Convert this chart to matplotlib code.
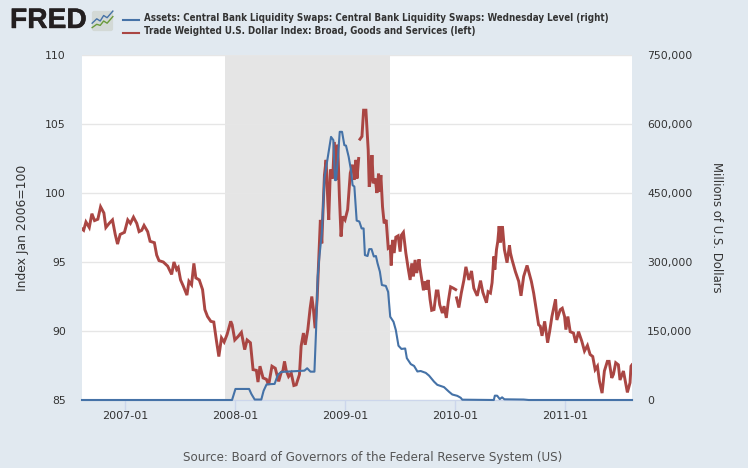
import numpy as np
import matplotlib.pyplot as plt
import matplotlib.patheffects as pe
from matplotlib.patches import FancyBboxPatch

nan = float("nan")

usd_years = [
    2006.611, 2006.626, 2006.647, 2006.677, 2006.701, 2006.725, 2006.755, 2006.780, 2006.810, 2006.828, 2006.858,
    2006.888, 2006.913, 2006.934, 2006.958, 2006.997, 2007.027, 2007.051, 2007.079, 2007.109, 2007.130,
    2007.154, 2007.175, 2007.208, 2007.230, 2007.269, 2007.290, 2007.311, 2007.350, 2007.390, 2007.426,
    2007.447, 2007.471, 2007.486, 2007.507, 2007.532, 2007.565, 2007.583, 2007.607, 2007.628, 2007.646,
    2007.677, 2007.707, 2007.728, 2007.752, 2007.782, 2007.809, 2007.834, 2007.855, 2007.879, 2007.903,
    2007.930, 2007.963, 2007.976, 2008.000, 2008.030, 2008.060, 2008.090, 2008.112, 2008.142, 2008.166,
    2008.196, 2008.211, 2008.229, 2008.257, 2008.287, 2008.308, 2008.338, 2008.368, 2008.399, 2008.422,
    2008.437, 2008.452, 2008.467, 2008.489, 2008.513, 2008.537, 2008.558, 2008.588, 2008.603, 2008.624,
    2008.640, 2008.664, 2008.685, 2008.700, 2008.715, 2008.730, 2008.748, 2008.769, 2008.778, 2008.791,
    2008.800, 2008.815, 2008.830, 2008.845, 2008.854, 2008.869, 2008.890, 2008.905, 2008.920, 2008.936,
    2008.951, 2008.966, 2008.981, 2009.002, 2009.026, 2009.050, 2009.071, 2009.087, 2009.102, 2009.111,
    2009.126, 2009.132, 2009.138, 2009.156, 2009.171, 2009.192, 2009.201, 2009.213, 2009.222, 2009.238,
    2009.247, 2009.259, 2009.277, 2009.292, 2009.307, 2009.316, 2009.328, 2009.343, 2009.358, 2009.376,
    2009.395, 2009.413, 2009.422, 2009.434, 2009.449, 2009.464, 2009.485, 2009.503, 2009.515, 2009.533,
    2009.555, 2009.576, 2009.594, 2009.609, 2009.624, 2009.639, 2009.654, 2009.675, 2009.681, 2009.699,
    2009.715, 2009.730, 2009.745, 2009.757, 2009.775, 2009.790, 2009.811, 2009.832, 2009.847, 2009.863,
    2009.887, 2009.902, 2009.923, 2009.941, 2009.962, 2009.987, 2010.008, 2010.012, 2010.016, 2010.037,
    2010.059, 2010.083, 2010.101, 2010.128, 2010.152, 2010.173, 2010.204, 2010.234, 2010.255, 2010.288,
    2010.303, 2010.324, 2010.339, 2010.355, 2010.364, 2010.379, 2010.391, 2010.403, 2010.415, 2010.433,
    2010.451, 2010.475, 2010.497, 2010.506, 2010.521, 2010.551, 2010.581, 2010.602, 2010.626, 2010.657,
    2010.672, 2010.696, 2010.717, 2010.741, 2010.762, 2010.777, 2010.793, 2010.817, 2010.844, 2010.862,
    2010.883, 2010.916, 2010.928, 2010.959, 2010.977, 2010.998, 2011.010, 2011.028, 2011.049, 2011.079,
    2011.100, 2011.125, 2011.155, 2011.179, 2011.206, 2011.230, 2011.254, 2011.276, 2011.297, 2011.315,
    2011.339, 2011.360, 2011.387, 2011.403, 2011.427, 2011.442, 2011.463, 2011.487, 2011.502, 2011.533,
    2011.548, 2011.569, 2011.593, 2011.602, 2011.611,
]
usd_index = [
    97.4, 97.3, 97.9, 97.5, 98.5, 98.0, 98.1, 99.0, 98.55, 97.5, 97.8,
    98.05, 97.0, 96.3, 97.0, 97.15, 98.05, 97.8, 98.25, 97.8, 97.2,
    97.3, 97.65, 97.2, 96.5, 96.4, 95.5, 95.1, 95.0, 94.7, 94.1,
    95.0, 94.45, 94.6, 93.7, 93.25, 92.6, 93.6, 93.35, 94.9, 93.85,
    93.7, 93.0, 91.55, 91.05, 90.7, 90.65, 89.25, 88.15, 89.5, 89.2,
    89.75, 90.7, 90.45, 89.35, 89.6, 89.9, 88.65, 89.35, 89.15, 87.2,
    87.15, 86.3, 87.45, 86.6, 86.5, 86.1, 87.45, 87.3, 86.35, 87.0,
    87.1, 87.8, 87.15, 86.7, 86.95, 86.05, 86.1, 86.85, 88.9, 89.85,
    89.0, 90.1, 91.65, 92.5, 91.55, 90.2, 92.25, 96.35, 98.05, 96.35,
    98.3, 101.3, 102.4, 99.5, 98.05, 101.7, 101.05, 103.7, 100.95, 103.5,
    99.75, 96.85, 98.3, 98.05, 98.8, 101.45, 102.05, 100.95, 102.4, 101.05,
    102.5, nan, 103.9, 104.1, 106.0, 106.0, 104.8, 103.1, 100.45, 101.2,
    102.75, 100.7, 101.05, 100.0, 101.4, 100.1, 101.3, 99.0, 97.8, 98.05,
    96.0, 96.1, 94.75, 96.6, 95.65, 96.8, 96.9, 95.75, 96.95, 97.15,
    95.65, 94.55, 93.7, 94.9, 93.95, 95.15, 94.2, 95.2, 94.7, 93.8,
    92.95, 93.6, 93.0, 93.7, 92.3, 91.5, 91.55, 92.9, 92.9, 91.9,
    91.3, 91.8, 90.95, 92.15, 93.2, 93.1, 93.0, nan, 92.4, 91.7,
    92.75, 93.7, 94.65, 93.7, 94.35, 93.1, 92.55, 93.65, 92.8, 92.05,
    92.85, 92.75, 93.5, 95.4, 94.45, 95.9, 96.5, 97.6, 96.4, 97.6,
    95.9, 94.95, 96.2, 95.65, 95.15, 94.3, 93.6, 92.55, 93.95, 94.75,
    94.3, 93.6, 92.75, 91.55, 90.45, 90.35, 89.65, 90.7, 89.15, 89.95,
    91.05, 92.3, 90.8, 91.55, 91.65, 91.05, 90.1, 91.05, 89.95, 89.85,
    89.15, 89.95, 89.25, 88.55, 88.95, 88.3, 88.15, 87.2, 87.45, 86.35,
    85.5, 87.1, 87.8, 87.8, 86.6, 86.85, 87.7, 87.55, 86.45, 87.1,
    86.45, 85.55, 86.25, 87.45, 87.55,
]

swap_years = [
    2006.611, 2007.975, 2008.006, 2008.130, 2008.151, 2008.181, 2008.241, 2008.262, 2008.289, 2008.362,
    2008.392, 2008.422, 2008.633, 2008.658, 2008.688, 2008.724, 2008.739, 2008.754, 2008.769, 2008.791,
    2008.815, 2008.875, 2008.896, 2008.911, 2008.920, 2008.936, 2008.954, 2008.975, 2008.996, 2009.011,
    2009.035, 2009.056, 2009.071, 2009.087, 2009.108, 2009.132, 2009.153, 2009.171, 2009.183, 2009.207,
    2009.222, 2009.243, 2009.264, 2009.283, 2009.298, 2009.319, 2009.337, 2009.373, 2009.394, 2009.413,
    2009.443, 2009.464, 2009.488, 2009.515, 2009.549, 2009.564, 2009.600, 2009.630, 2009.660, 2009.690,
    2009.736, 2009.766, 2009.811, 2009.841, 2009.902, 2009.947, 2009.977, 2010.023, 2010.053, 2010.068,
    2010.355, 2010.364, 2010.385, 2010.409, 2010.430, 2010.451, 2010.626, 2010.672, 2011.611,
]
swap_level = [
    0, 0, 24000, 24000, 13000, 1000, 1000, 20000, 34000, 35000,
    55000, 61000, 63800, 69000, 61600, 61600, 152000, 268000, 312000, 362000,
    482000, 572000, 565000, 478000, 478000, 522000, 583000, 583000, 554000, 553000,
    529000, 500000, 467000, 464000, 390000, 388000, 373000, 373000, 315000, 313000,
    328000, 328000, 312000, 313000, 297000, 279000, 250000, 248000, 235000, 181000,
    170000, 152000, 118000, 111000, 112000, 91000, 78000, 74000, 62000, 63000,
    59000, 53000, 40000, 33000, 28000, 18000, 12000, 9000, 5000, 700,
    0, 9400, 9400, 2000, 5800, 1500, 1000, 0, 0,
]

year_ticks = [2007, 2008, 2009, 2010, 2011]
year_labels = ["2007-01", "2008-01", "2009-01", "2010-01", "2011-01"]
left_ticks = [85, 90, 95, 100, 105, 110]
right_ticks = [0, 150000, 300000, 450000, 600000, 750000]
recession = (2007.91, 2009.41)

bg = "#e1e9f0"
red = "#aa4643"
blue = "#4572a7"
text_col = "#333333"

fig = plt.figure(figsize=(7.48, 4.68), dpi=100, facecolor=bg)
ax = fig.add_axes([82 / 748, 68 / 468, 550 / 748, 345 / 468])
ax.set_facecolor("white")

ax.axvspan(recession[0], recession[1], color="#e5e5e5", lw=0, zorder=0)
ax.plot(usd_years, usd_index, color=red, lw=2.1, solid_joinstyle="miter", zorder=3)
ax.set_xlim(2006.611, 2011.611)
ax.set_ylim(85, 110)
ax.set_yticks(left_ticks)
ax.grid(axis="y", color="#e6e6e6", lw=1, zorder=1)
ax.set_axisbelow(True)
ax.set_xticks(year_ticks)
ax.set_xticklabels(year_labels)
ax.tick_params(axis="x", length=7.5, width=1, color="#ccd6eb", labelsize=8, labelcolor=text_col, pad=0.5)
ax.tick_params(axis="y", length=0, labelsize=7.8, labelcolor=text_col, pad=11.5)
ax.set_ylabel("Index Jan 2006=100", fontsize=8.9, color=text_col, labelpad=11.6)

ax2 = ax.twinx()
ax2.plot(swap_years, swap_level, color=blue, lw=1.5, clip_on=False, zorder=4)
ax2.set_ylim(0, 750000)
ax2.set_yticks(right_ticks)
ax2.set_yticklabels([f"{v:,}" for v in right_ticks])
ax2.tick_params(axis="y", length=0, labelsize=7.8, labelcolor=text_col, pad=10.8)
ax2.set_ylabel("Millions of U.S. Dollars", fontsize=8.4, color=text_col, rotation=270, labelpad=22.4)

for a in (ax, ax2):
    for side in ("top", "left", "right"):
        a.spines[side].set_visible(False)
    a.spines["bottom"].set_color("#ccd6eb")

# legend, drawn by hand to sit next to the logo
fig.add_artist(plt.Line2D([123 / 748, 139 / 748], [1 - 19.5 / 468] * 2, color=blue, lw=1.5))
fig.add_artist(plt.Line2D([123 / 748, 139 / 748], [1 - 32.5 / 468] * 2, color=red, lw=1.5))
fig.text(144 / 748, 1 - 18 / 468, "Assets: Central Bank Liquidity Swaps: Central Bank Liquidity Swaps: Wednesday Level (right)",
         fontsize=7, fontweight="bold", stretch="condensed", family="DejaVu Sans", color=text_col, va="center")
fig.text(144 / 748, 1 - 31 / 468, "Trade Weighted U.S. Dollar Index: Broad, Goods and Services (left)",
         fontsize=7, fontweight="bold", stretch="condensed", family="DejaVu Sans", color=text_col, va="center")

fig.text(373 / 748, 1 - 458 / 468, "Source: Board of Governors of the Federal Reserve System (US)",
         fontsize=8.6, color="#555555", ha="center", va="center")

# logo
logo_text = fig.text(10 / 748, 1 - 21 / 468, "FRED", fontsize=20.3, fontweight="bold", color="#231f20",
                     family="Liberation Sans", va="center")
logo_text.set_path_effects([pe.withStroke(linewidth=0.3, foreground="#231f20")])
logo = fig.add_axes([91 / 748, 1 - 32 / 468, 23 / 748, 22 / 468])
logo.set_xlim(0, 1)
logo.set_ylim(0, 1)
logo.axis("off")
logo.add_patch(FancyBboxPatch((0.04, 0.04), 0.92, 0.92, boxstyle="round,pad=0,rounding_size=0.1",
                              fc="#d3d9d6", ec="none"))
logo.plot([0.05, 0.25, 0.4, 0.55, 0.7, 0.95], [0.4, 0.6, 0.5, 0.75, 0.65, 0.95], color="#4572a7", lw=1)
logo.plot([0.05, 0.25, 0.4, 0.55, 0.7, 0.95], [0.2, 0.35, 0.3, 0.5, 0.4, 0.7], color="#6a9a3a", lw=1)

fig.savefig("out.png", dpi=100, facecolor=bg)
